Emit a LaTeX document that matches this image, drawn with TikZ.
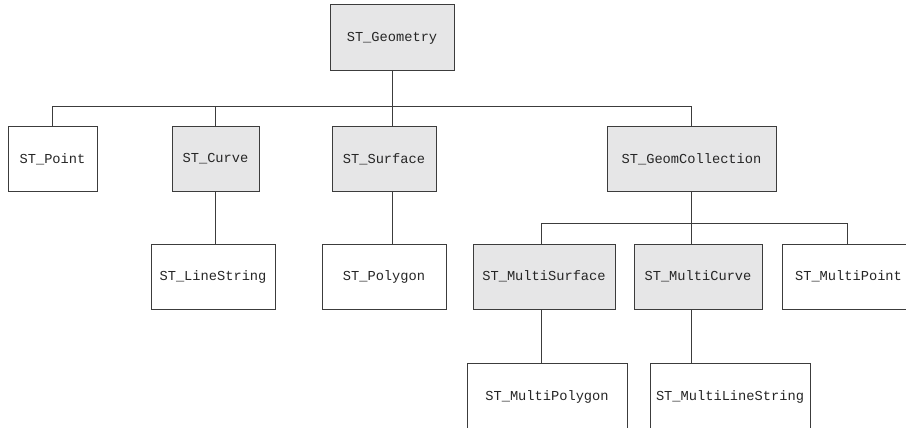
\documentclass[tikz,border=0pt]{standalone}
\usepackage{fontspec}
\setmonofont{Liberation Mono}
\definecolor{boxgray}{HTML}{E6E6E7}
\definecolor{linegray}{HTML}{3C3C3C}
\begin{document}
\begin{tikzpicture}[x=1pt,y=-1pt,
  box/.style={draw=linegray,line width=1pt,fill=white,inner sep=0pt,
    font=\fontsize{13.7}{16}\selectfont\ttfamily,text=black!85},
  gbox/.style={box,fill=boxgray},
  conn/.style={draw=linegray,line width=1pt}]
\useasboundingbox (0,0) rectangle (906,428);
\clip (0,0) rectangle (906,428);
% level 0
\node[gbox,minimum width=124pt,minimum height=66pt] (geom) at (392,38) {ST\_Geometry};
% level 1
\node[box,minimum width=89pt,minimum height=64pt] (point) at (52.5,159) {ST\_Point};
\node[gbox,minimum width=87pt,minimum height=64pt] (curve) at (215.5,159) {ST\_Curve};
\node[gbox,minimum width=104pt,minimum height=64pt] (surface) at (384,159) {ST\_Surface};
\node[gbox,minimum width=169pt,minimum height=64pt] (coll) at (691.5,159) {ST\_GeomCollection};
% level 2
\node[box,minimum width=124pt,minimum height=65pt] (linestring) at (213,276.5) {ST\_LineString};
\node[box,minimum width=124pt,minimum height=65pt] (polygon) at (384,276.5) {ST\_Polygon};
\node[gbox,minimum width=142pt,minimum height=65pt] (msurf) at (544,276.5) {ST\_MultiSurface};
\node[gbox,minimum width=128pt,minimum height=65pt] (mcurve) at (698,276.5) {ST\_MultiCurve};
\node[box,minimum width=150pt,minimum height=65pt,anchor=west] (mpoint) at (782,276.5) {\hspace*{-18pt}ST\_MultiPoint};
% level 3
\node[box,minimum width=160pt,minimum height=66pt] (mpoly) at (547,396.5) {ST\_MultiPolygon};
\node[box,minimum width=160pt,minimum height=66pt] (mline) at (730,396.5) {ST\_MultiLineString};
% buses
\coordinate (bus1) at (0,107);
\coordinate (bus2) at (0,223);
\coordinate (lsurf) at (392,0);
\coordinate (lcoll) at (691,0);
\coordinate (lms) at (541,0);
\coordinate (lmp) at (847,0);
% connectors
\draw[conn] (geom.south) -- (geom.south |- bus1);
\draw[conn] (point.north) -- (point.north |- bus1) -- (lcoll |- bus1) -- (lcoll |- coll.north);
\draw[conn] (curve.north) -- (curve.north |- bus1);
\draw[conn] (lsurf |- surface.north) -- (lsurf |- bus1);
\draw[conn] (curve.south) -- (curve.south |- linestring.north);
\draw[conn] (lsurf |- surface.south) -- (lsurf |- polygon.north);
\draw[conn] (lcoll |- coll.south) -- (lcoll |- bus2);
\draw[conn] (lms |- msurf.north) -- (lms |- bus2) -- (lmp |- bus2) -- (lmp |- mpoint.north);
\draw[conn] (lcoll |- mcurve.north) -- (lcoll |- bus2);
\draw[conn] (lms |- msurf.south) -- (lms |- mpoly.north);
\draw[conn] (lcoll |- mcurve.south) -- (lcoll |- mline.north);
\end{tikzpicture}
\end{document}
